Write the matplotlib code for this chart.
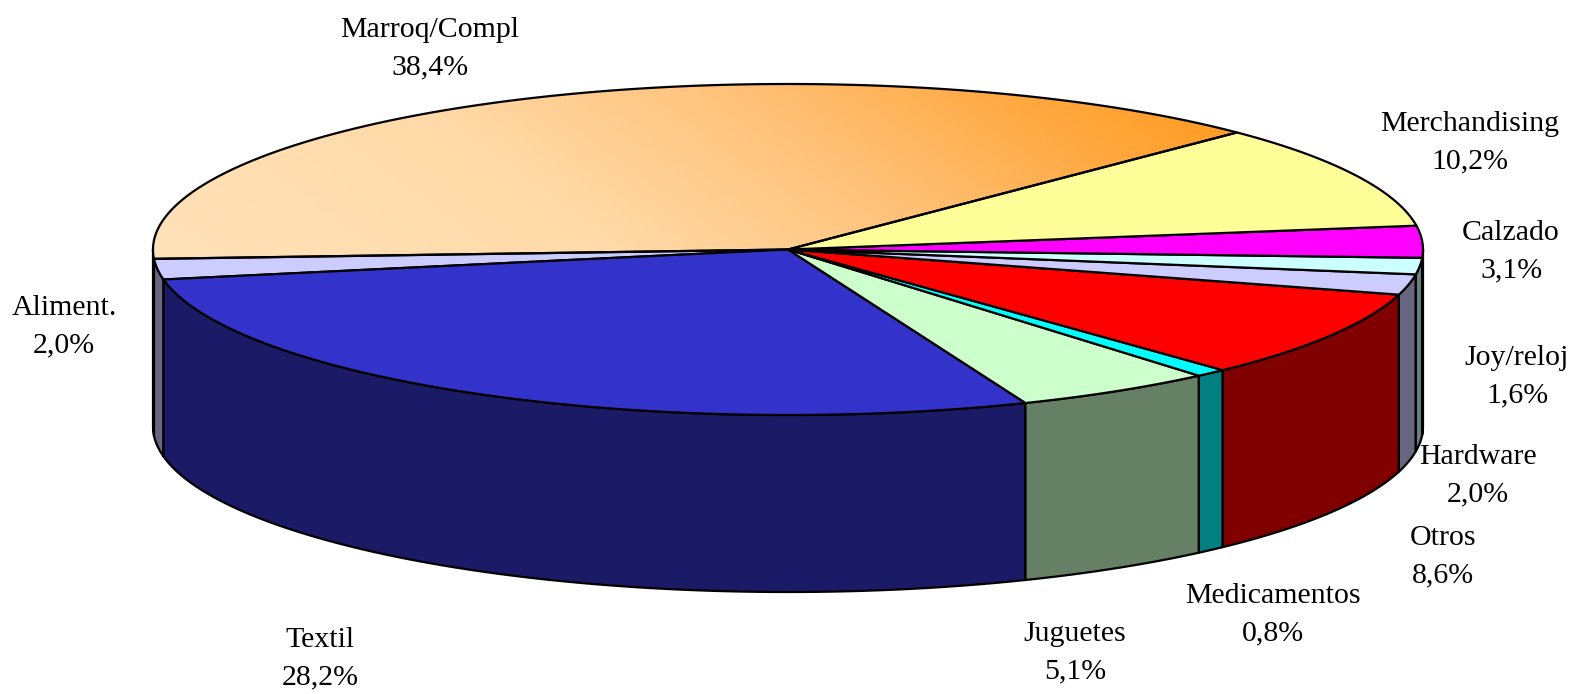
import numpy as np
import matplotlib
matplotlib.use("Agg")
import matplotlib.pyplot as plt
from matplotlib.patches import Polygon
from matplotlib.colors import LinearSegmentedColormap

plt.rcParams['font.family'] = ['Liberation Serif', 'DejaVu Serif']

categories = ["Marroq/Compl", "Aliment.", "Textil", "Juguetes", "Medicamentos",
              "Otros", "Hardware", "Joy/reloj", "Calzado", "Merchandising"]
values = [38.4, 2.0, 28.2, 5.1, 0.8, 8.6, 2.0, 1.6, 3.1, 10.2]
value_labels = ["38,4%", "2,0%", "28,2%", "5,1%", "0,8%", "8,6%", "2,0%", "1,6%", "3,1%", "10,2%"]
top_colors = ["#FFC080", "#CCCCFF", "#3333CC", "#CCFFCC", "#00FFFF",
              "#FF0000", "#CCCCFF", "#CCFFFF", "#FF00FF", "#FFFF99"]
side_colors = ["#806040", "#666680", "#1A1A66", "#668066", "#008080",
               "#800000", "#666680", "#668080", "#800080", "#808050"]
label_pos = [(430, 49), (64, 327), (320, 659), (1075, 653), (1273, 615),
             (1443, 557), (1478, 476), (1517, 377), (1511, 252), (1470, 143)]

W, H = 1579, 694
CX, CY, RX, RY, DEPTH = 788, 249.5, 635, 165.5, 177
START = 45.0

fig = plt.figure(figsize=(W / 100, H / 100), dpi=100, facecolor="white")
ax = fig.add_axes([0, 0, 1, 1])
ax.set_xlim(0, W)
ax.set_ylim(H, 0)
ax.axis("off")

fractions = np.array(values) / np.sum(values)
edges = START + 360 * np.concatenate([[0], np.cumsum(fractions)])


def rim(a0, a1, n=None):
    n = n or max(3, int(abs(a1 - a0) * 2))
    t = np.radians(np.linspace(a0, a1, n))
    return CX + RX * np.cos(t), CY - RY * np.sin(t)


LW = 1.6
# side walls: only the front half (180 to 360 degrees) is visible
for i in range(len(values)):
    a0, a1 = edges[i], edges[i + 1]
    for off in (0, 360):
        lo, hi = max(a0, 180 + off), min(a1, 360 + off)
        if hi > lo:
            x, y = rim(lo, hi)
            pts = np.column_stack([np.r_[x, x[::-1]], np.r_[y, y[::-1] + DEPTH]])
            ax.add_patch(Polygon(pts, closed=True, fc=side_colors[i], ec="black",
                                 lw=LW, joinstyle="round", zorder=2))

# top faces
for i in range(len(values)):
    x, y = rim(edges[i], edges[i + 1])
    pts = np.column_stack([np.r_[CX, x], np.r_[CY, y]])
    if i == 0:
        poly = Polygon(pts, closed=True, fc="none", ec="black", lw=LW, zorder=4)
        ax.add_patch(poly)
        gx, gy = np.meshgrid(np.linspace(0, 1, 400), np.linspace(0, 1, 200))
        g = np.clip(0.82 * gx + 0.18 * (1 - gy), 0, 1)
        cmap = LinearSegmentedColormap.from_list(
            "orange", [(0, "#FFE2BA"), (0.35, "#FFDAA8"), (0.6, "#FFC178"),
                       (0.8, "#FFA83F"), (1, "#FF9512")])
        im = ax.imshow(g, cmap=cmap, extent=(CX - RX, CX + RX - 140, CY + 15, CY - RY),
                       aspect="auto", zorder=3, vmin=0, vmax=1)
        clip = Polygon(pts, closed=True, transform=ax.transData)
        im.set_clip_path(clip)
        ax.set_xlim(0, W)
        ax.set_ylim(H, 0)
    else:
        ax.add_patch(Polygon(pts, closed=True, fc=top_colors[i], ec="black",
                             lw=LW, zorder=3 + 0.01 * i))

for name, val, (lx, ly) in zip(categories, value_labels, label_pos):
    ax.text(lx, ly, name + "\n" + val, ha="center", va="center", fontsize=21.5,
            color="black", linespacing=1.56, zorder=6)

fig.savefig("out.png", dpi=100, facecolor="white")
